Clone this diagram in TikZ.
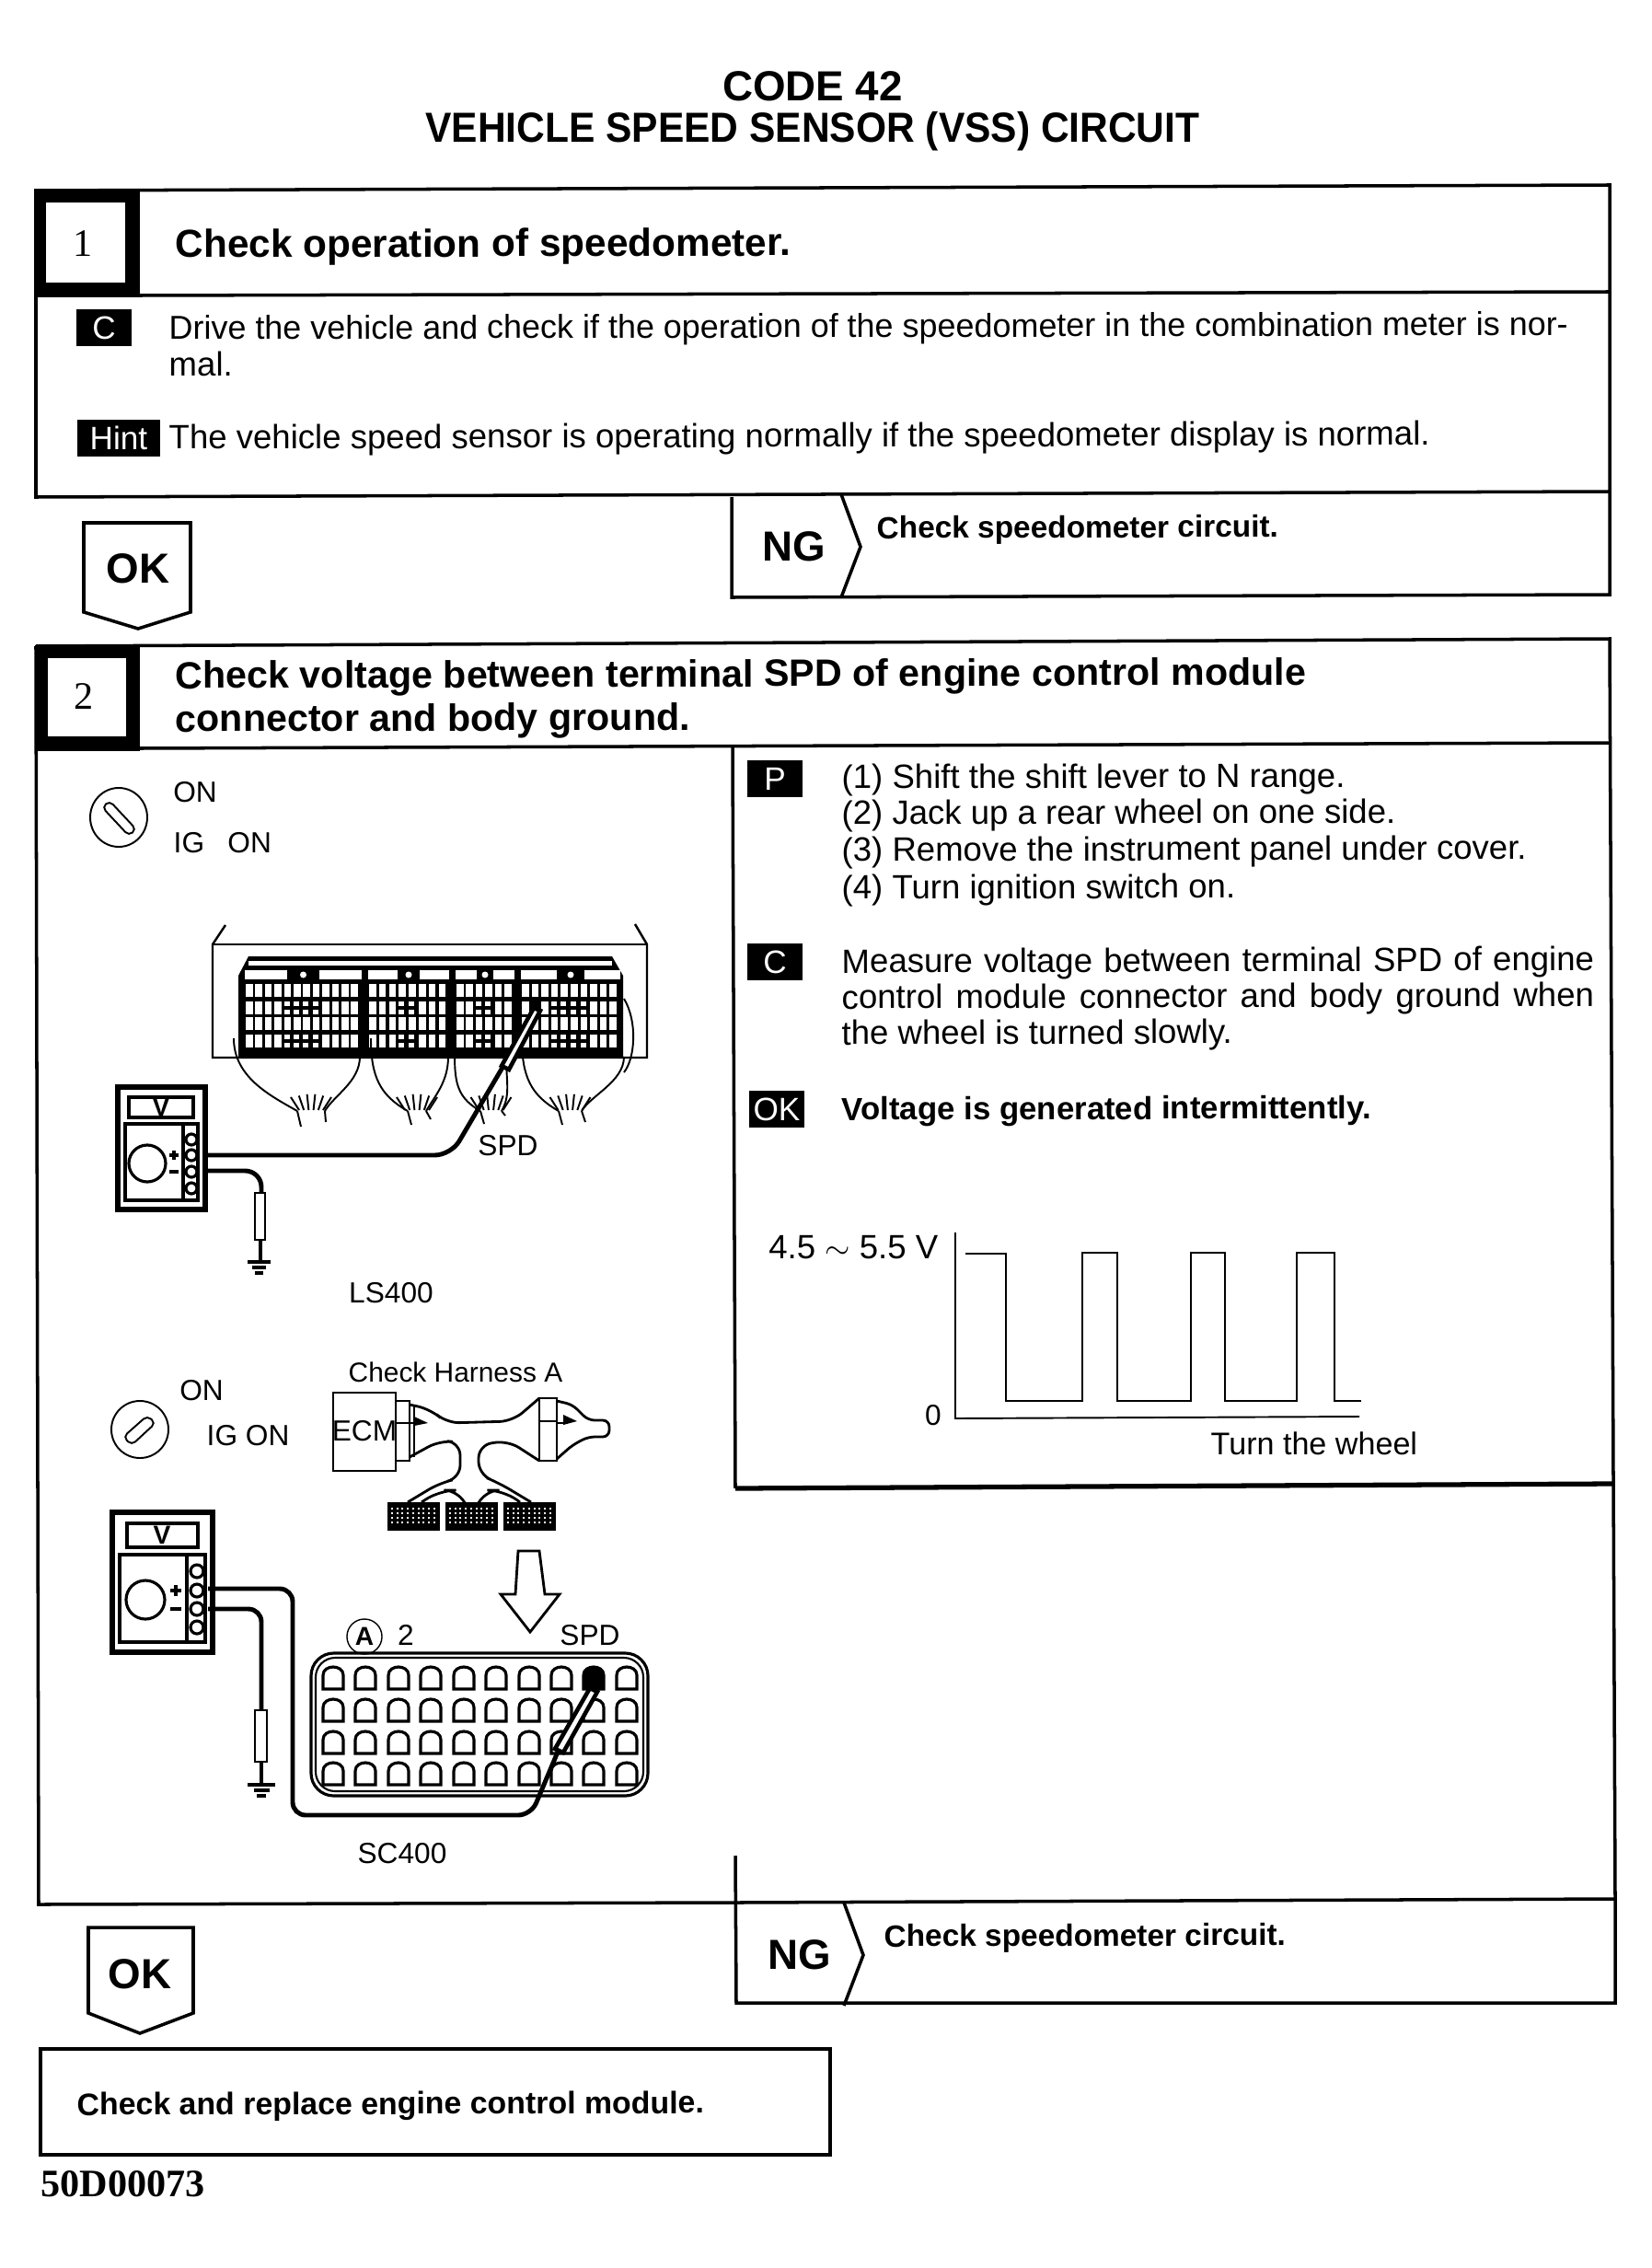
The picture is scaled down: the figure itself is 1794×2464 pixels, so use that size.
\documentclass[tikz,border=0pt]{standalone}
\usepackage{fontspec}
\usepackage{graphicx}
\setmainfont{Liberation Sans}
\newfontfamily\numfont{Liberation Serif}
\usetikzlibrary{arrows.meta,positioning}
\tikzset{
    boxline/.style={line width=1pt},
    heavyline/.style={line width=1.5pt},
    wire/.style={line width=.55pt},
    lead/.style={line width=1.4pt,rounded corners=5pt},
    bodytxt/.style={anchor=base west,inner sep=0pt,rotate=.18,font=\fontsize{10.4}{12}\selectfont},
    boldtxt/.style={anchor=base west,inner sep=0pt,rotate=.18,font=\fontsize{9.5}{12}\selectfont\bfseries},
    steptxt/.style={anchor=base west,inner sep=0pt,rotate=.18,font=\fontsize{11.73}{14}\selectfont\bfseries},
    figtxt/.style={inner sep=0pt,font=\fontsize{9}{11}\selectfont},
    tag/.style={fill=black,text=white,inner sep=0pt,minimum height=.4cm,minimum width=.6cm,font=\fontsize{10}{12}\selectfont},
    arrowtxt/.style={inner sep=0pt,font=\fontsize{13}{15}\selectfont\bfseries},
    numtxt/.style={inner sep=0pt,font=\numfont\fontsize{12}{14}\selectfont},
}
\begin{document}
\begin{tikzpicture}[x=0.01cm,y=-0.01cm]
\useasboundingbox (0,0) rectangle (1794,2464);
\fill[white] (0,0) rectangle (1794,2464);

\node[anchor=base,inner sep=0pt,font=\fontsize{13}{15}\selectfont\bfseries] (codeline) at (883,110) {CODE 42};
\node[anchor=base,inner sep=0pt,font=\fontsize{13}{15}\selectfont\bfseries] (titleline) at (883,155) {\scalebox{.93}[1]{VEHICLE SPEED SENSOR (VSS) CIRCUIT}};

% step 1
\draw[boxline] (39,207) -- (1749,201) -- (1749,534) -- (39,540) -- cycle;
\draw[boxline] (152,321) -- (1749,317);
\fill (38,206) rectangle (152,323);
\fill[white] (50,220) rectangle (136,307);
\node[numtxt] (stepone) at (90,265) {1};
\node[steptxt,font=\fontsize{12.05}{14}\selectfont\bfseries] (steponehead) at (190,280) {Check operation of speedometer.};
\node[tag] (tagc) at (113,356) {C};
\node[bodytxt,font=\fontsize{10.22}{12}\selectfont] (driveline) at (183,369) {Drive the vehicle and check if the operation of the speedometer in the combination meter is nor-};
\node[bodytxt] (malline) at (183,409) {mal.};
\node[tag,minimum width=.9cm] (taghint) at (129,476) {Hint};
\node[bodytxt] (hintline) at (183,488) {The vehicle speed sensor is operating normally if the speedometer display is normal.};

\draw[boxline] (91,568) -- (207,568) -- (207,665) -- (150,683) -- (91,665) -- cycle;
\node[arrowtxt] (okone) at (150,618) {OK};
\draw[boxline] (795,540) -- (795,649) -- (1749,646) -- (1749,534);
\draw[boxline] (914,537) -- (935,594) -- (914,649);
\node[arrowtxt] (ngone) at (863,594) {NG};
\node[boldtxt] (ngonetxt) at (952,585) {Check speedometer circuit.};

% step 2
\draw[boxline] (39,702) -- (1749,694) -- (1755,2063);
\draw[boxline] (39,702) -- (42,2069) -- (800,2067) -- (1755,2063);
\draw[boxline] (152,813) -- (1749,807);
\fill (38,701) rectangle (152,816);
\fill[white] (52,715) rectangle (137,800);
\node[numtxt] (steptwo) at (91,757) {2};
\node[steptxt] (steptwohead) at (190,748) {Check voltage between terminal SPD of engine control module};
\node[steptxt] (steptwomore) at (190,795) {connector and body ground.};

\draw[boxline] (796,810) -- (799,1617);
\draw[heavyline] (799,1617) -- (1753,1612);
\draw[boxline] (799,2016) -- (800,2176) -- (1755,2176) -- (1755,2063);
\draw[boxline] (917,2067) -- (938,2124) -- (917,2179);
\node[arrowtxt] (ngtwo) at (869,2124) {NG};
\node[boldtxt] (ngtwotxt) at (960,2115) {Check speedometer circuit.};

\draw[boxline] (96,2094) -- (210,2094) -- (210,2187) -- (152,2209) -- (96,2187) -- cycle;
\node[arrowtxt] (oktwo) at (152,2145) {OK};
\draw[boxline] (44,2226) rectangle (902,2341);
\node[boldtxt,font=\fontsize{9.63}{12}\selectfont\bfseries] (replacetxt) at (83,2298) {Check and replace engine control module.};
\node[anchor=base west,inner sep=0pt,font=\numfont\fontsize{12}{14}\selectfont\bfseries] (doccode) at (44,2386) {50D00073};

% right panel
\node[tag] (tagp) at (842,846) {P};
\foreach \yy/\lab in {857/(1) Shift the shift lever to N range.,896/(2) Jack up a rear wheel on one side.,936/(3) Remove the instrument panel under cover.,977/(4) Turn ignition switch on.} {
    \node[bodytxt] (stage\yy) at (914,\yy) {\lab};
}
\node[tag] (tagm) at (842,1045) {C};
\foreach \yy/\lab in {1057/Measure voltage between terminal SPD of engine,1096/control module connector and body ground when} {
    \node[bodytxt] (meas\yy) at (914,\yy) {\makebox[8.17cm][s]{\lab}};
}
\node[bodytxt] (meas1135) at (914,1135) {the wheel is turned slowly.};
\node[tag] (tagok) at (844,1205) {OK};
\node[boldtxt,font=\fontsize{9.9}{12}\selectfont\bfseries] (okspec) at (914,1217) {Voltage is generated intermittently.};

% wave
\draw[wire] (1038,1339) -- (1038,1541) -- (1477,1539);
\draw[line width=.8pt] (1049,1362) -- (1093,1362) -- (1093,1522) -- (1176,1522) -- (1176,1361) -- (1214,1361) -- (1214,1522) -- (1294,1522) -- (1294,1361) -- (1331,1361) -- (1331,1522) -- (1409,1522) -- (1409,1361) -- (1450,1361) -- (1450,1522) -- (1479,1522);
\node[figtxt,anchor=east,font=\fontsize{10.4}{12}\selectfont] (vhigh) at (1020,1355) {4.5 $\sim$ 5.5 V};
\node[figtxt] (vzero) at (1014,1538) {0};
\node[figtxt,anchor=west,font=\fontsize{9.7}{12}\selectfont] (turntxt) at (1315,1568) {Turn the wheel};

% LS400
\draw[wire] (129,888) ellipse (31 and 32);
\draw[wire,rounded corners=1.5pt] (111,877) -- (119,870) -- (148,901) -- (140,908) -- cycle;
\node[figtxt] (onls) at (212,861) {ON};
\node[figtxt,anchor=west] (igls) at (188,916) {IG\hspace{.8em}ON};
\draw[line width=.7pt] (245,1005) -- (231,1026) -- (231,1149) -- (703,1149) -- (703,1026) -- (690,1004);
\draw[line width=.7pt] (231,1026) -- (703,1026);
\fill (259,1148) -- (259,1060) -- (270,1039) -- (665,1039) -- (677,1060) -- (677,1148) -- cycle;
\fill[white] (270,1044) rectangle (665,1049);
\foreach \bx/\bw/\n/\px/\lo/\hi in {266/127/12/10.4/4/9,400/88/8/10.8/3/6,495/64/6/10.4/2/5,566/108/10/10.6/3/8} {
    \fill[white] (\bx,1054) rectangle +({\bw*.36},10);
    \fill[white] ({\bx+\bw*.64},1054) rectangle +({\bw*.36},10);
    \fill[white] ({\bx+\bw/2},1059) circle (3.5);
    \foreach \ry in {1069,1105} {
        \foreach \i in {1,...,\n} {
            \fill[white] ({\bx+1+(\i-1)*\px},\ry) rectangle +(7.5,14);
        }
    }
    \foreach \ry in {1088,1124} {
        \foreach \i in {1,...,\n} {
            \ifnum\i>\lo \ifnum\i<\hi
                \fill[white] ({\bx+1+(\i-1)*\px},\ry) rectangle +(6,5);
                \fill[white] ({\bx+1+(\i-1)*\px},{\ry+9}) rectangle +(6,5);
            \else
                \fill[white] ({\bx+1+(\i-1)*\px},\ry) rectangle +(7.5,14);
            \fi \else
                \fill[white] ({\bx+1+(\i-1)*\px},\ry) rectangle +(7.5,14);
            \fi
        }
    }
}
\foreach \fa/\fb/\ca/\cb/\sa/\sb/\ea/\eb in {
    254/391/323/353/327/354/1224/1219,
    403/487/443/463/447/468/1222/1216,
    494/550/522/545/526/549/1221/1212,
    567/678/607/632/611/636/1222/1219} {
    \draw[wire] (\fa,1128) .. controls (\fa,1170) and ({\ca-30},1190) .. (\ca,1207);
    \draw[wire] (\fb,1148) .. controls (\fb,1175) and ({\cb+10},1190) .. (\cb,1207);
    \draw[wire] (\ca,1207) -- (\sa,\ea);
    \draw[wire] (\cb,1207) -- (\sb,\eb);
    \foreach \t in {-1.0,-.6,-.2,.2,.6,1.0} {
        \draw[wire] ({(\ca+\cb)/2+\t*13},1206) -- ({(\ca+\cb)/2+\t*22},{1188+abs(\t)*4});
    }
}
\draw[wire] (678,1085) .. controls (693,1110) and (690,1150) .. (678,1165);
\draw[line width=1.3pt,fill=white] (580,1095) -- (587,1098) -- (553,1162) -- (545,1158) -- cycle;
\fill (577,1088) rectangle (586,1097);
\draw[lead] (547,1158) -- (490,1255) -- (221,1255);
\draw[lead] (221,1272) -- (284,1272) -- (284,1296);
\node[figtxt] (spdls) at (552,1245) {SPD};
\node[figtxt] (lsname) at (425,1405) {LS400};

\draw[heavyline] (128,1181) rectangle (223,1314);
\draw[line width=.9pt] (140,1192) rectangle (210,1214);
\node[inner sep=0pt,font=\fontsize{8}{10}\selectfont\bfseries] (vls) at (175,1203) {V};
\draw[line width=.9pt] (136,1221) rectangle (215,1304);
\draw[line width=.9pt] (199,1221) -- (199,1304);
\draw[line width=.9pt] (160,1264) circle (20);
\foreach \yy in {1238,1255,1273,1291} {
    \draw[line width=.9pt] (208,\yy) circle (6);
}
\draw[line width=.9pt] (184,1255) -- (194,1255) (189,1250) -- (189,1260) (184,1273) -- (194,1273);
\draw[line width=.8pt,fill=white] (277,1296) rectangle (288,1347);
\draw[lead] (283,1347) -- (283,1371);
\draw[boxline] (269,1371) -- (294,1371) (274,1377) -- (289,1377) (277,1383) -- (286,1383);

% SC400
\draw[wire] (152,1553) circle (31);
\draw[wire,rounded corners=1.5pt] (160,1538) -- (169,1546) -- (143,1570) -- (134,1561) -- cycle;
\node[figtxt] (onsc) at (219,1511) {ON};
\node[figtxt,anchor=west] (igsc) at (224,1560) {IG ON};
\node[figtxt,font=\fontsize{8.5}{11}\selectfont] (harness) at (495,1491) {Check Harness A};
\draw[line width=.8pt] (362,1513) rectangle (430,1598);
\node[figtxt] (ecmtxt) at (396,1555) {ECM};
\draw[line width=.8pt] (430,1522) rectangle (445,1587);
\draw[line width=.8pt] (586,1519) rectangle (605,1587) (586,1544) -- (605,1544);
\draw[line width=.8pt] (430,1546) -- (450,1546) (605,1546) -- (612,1546);
\draw[line width=.8pt,rounded corners=4pt] (445,1526) -- (468,1531) -- (485,1546) -- (557,1544) -- (586,1519);
\draw[line width=.8pt,rounded corners=4pt] (445,1583) -- (478,1565) -- (500,1567) -- (500,1606) -- (478,1611) -- (443,1632);
\draw[line width=.8pt,rounded corners=4pt] (586,1587) -- (552,1565) -- (520,1570) -- (520,1602) -- (542,1611) -- (577,1632);
\draw[line width=.8pt,rounded corners=2pt] (605,1522) -- (622,1526) -- (639,1543) -- (662,1543) -- (662,1561) -- (639,1561) -- (622,1570) -- (605,1585);
\draw[line width=.8pt] (450,1526) -- (450,1583);
\fill (450,1539) -- (465,1546) -- (450,1549) -- cycle;
\fill (612,1537) -- (627,1544) -- (612,1548) -- cycle;
\draw[line width=.8pt,rounded corners=5pt] (458,1632) -- (478,1619) -- (500,1619) -- (505,1632);
\draw[line width=.8pt,rounded corners=5pt] (520,1632) -- (525,1619) -- (547,1619) -- (565,1632);
\foreach \cx in {421,484,547} {
    \fill (\cx,1632) rectangle +(57,31);
    \foreach \i in {1,...,9} {
        \foreach \j in {1,...,4} {
            \fill[white] ({\cx+4+(\i-1)*5.7},{1638+(\j-1)*5}) rectangle +(2,2);
        }
    }
}
\draw[line width=.8pt] (563,1685) -- (586,1685) -- (592,1732) -- (608,1732) -- (576,1773) -- (544,1732) -- (560,1732) -- cycle;
\node[draw,circle,line width=.4pt,inner sep=1pt,font=\fontsize{8}{10}\selectfont\bfseries] (circa) at (396,1778) {A};
\node[figtxt] (circtwo) at (441,1776) {2};
\node[figtxt] (spdsc) at (641,1777) {SPD};
\draw[line width=.9pt,rounded corners=7pt] (338,1796) rectangle (704,1951);
\draw[line width=.6pt,rounded corners=6pt] (343,1801) rectangle (699,1946);
\foreach \xx in {362,397,433,468,504,539,575,610,645,681} {
    \foreach \yy in {1823,1858,1893,1927} {
        \draw[line width=.9pt,shift={(\xx,\yy)}] (-11,12) -- (-11,-3) .. controls (-11,-15) and (11,-15) .. (11,-3) -- (11,12) -- cycle;
    }
}
\fill[shift={(645,1823)}] (-11,12) -- (-11,-3) .. controls (-11,-15) and (11,-15) .. (11,-3) -- (11,12) -- cycle;
\draw[line width=1.3pt,fill=white] (641,1834) -- (649,1838) -- (612,1904) -- (603,1900) -- cycle;
\draw[lead,rounded corners=4pt] (607,1901) -- (577,1972) -- (318,1972) -- (318,1726) -- (226,1726);
\draw[lead,rounded corners=4pt] (226,1748) -- (284,1748) -- (284,1858);
\node[figtxt] (scname) at (437,2014) {SC400};

\draw[heavyline] (122,1643) rectangle (231,1795);
\draw[line width=.9pt] (138,1655) rectangle (215,1681);
\node[inner sep=0pt,font=\fontsize{8}{10}\selectfont\bfseries] (vsc) at (176,1668) {V};
\draw[line width=.9pt] (130,1689) rectangle (223,1784);
\draw[line width=.9pt] (203,1689) -- (203,1784);
\draw[line width=.9pt] (158,1738) circle (21);
\foreach \yy in {1707,1728,1748,1768} {
    \draw[line width=.9pt] (214,\yy) circle (7);
}
\draw[line width=.9pt] (185,1728) -- (197,1728) (191,1722) -- (191,1734) (185,1748) -- (197,1748);
\draw[line width=.8pt,fill=white] (277,1858) rectangle (290,1914);
\draw[lead] (284,1914) -- (284,1939);
\draw[boxline] (269,1939) -- (299,1939) (276,1945) -- (293,1945) (279,1951) -- (289,1951);
\end{tikzpicture}
\end{document}
